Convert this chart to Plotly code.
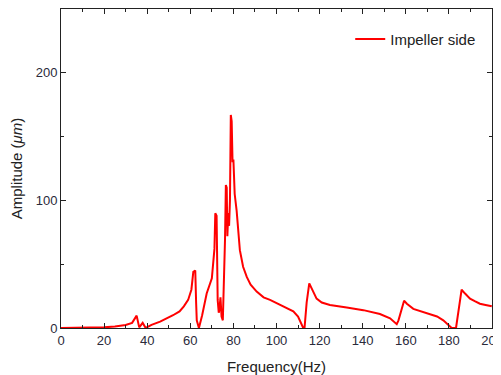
import plotly.graph_objects as go

freq = [0, 10, 20, 25, 30, 33, 35.1, 36.3, 37.9, 39.3, 42, 46, 50, 52, 55, 57, 59, 60.5, 61.4, 62.3, 62.7, 63.0,
        64, 65.5, 67.6, 70, 71.2, 71.6, 72.2, 72.7, 73.2, 73.5, 74.0, 74.5, 75.1, 75.6, 76.1, 76.5, 76.9, 77.2,
        77.6, 78.0, 78.4, 78.8, 79.2, 79.6, 80, 80.6, 81.5, 83, 84.5, 86.2, 88, 90.8, 94, 97, 101.6, 104.5,
        107.8, 110, 111.5, 112.4, 113, 114, 115.2, 116.5, 118.6, 121, 124.8, 132.6, 140.3, 148, 152.7, 155.8,
        156.6, 159.2, 160.5, 163.5, 167, 171.2, 174.5, 177.4, 179.5, 181.3, 183.3, 184.5, 185.9, 187.5, 189.8,
        192, 194.4, 197, 199.9]
amp = [0, 0.1, 0.5, 1.2, 2.3, 4, 9.7, 0.5, 4, 0, 2.5, 5, 8, 10, 13, 17, 22, 30, 44, 45, 20, 6,
       0, 10, 27, 39, 62, 90, 88, 22, 12, 14, 24, 9, 6, 30, 69, 112, 110, 72,
       90, 80, 100, 167, 162, 130, 132, 105, 92, 61, 48, 40, 34, 28.5, 24, 22, 18, 15.5,
       13, 9, 4, 0, 0, 20, 35, 30, 23, 20, 18, 16, 14, 11, 7.6, 3,
       6, 21.4, 19, 15, 13, 11, 9, 6, 3, 0, 0, 15, 30, 27, 23,
       21, 19, 18, 17]

series_name = "Impeller side"

fig = go.Figure()
fig.add_trace(go.Scatter(x=freq, y=amp, mode="lines", name=series_name,
                         line=dict(color="#ff0000", width=2)))

axis_common = dict(showline=True, linecolor="#222", linewidth=1, mirror="ticks",
                   ticks="inside", ticklen=5, tickcolor="#222", showgrid=False, zeroline=False,
                   automargin=False,
                   tickfont=dict(family="Liberation Sans, Arial", size=13, color="#2a2a3a"))

fig.update_layout(
    width=501, height=367,
    margin=dict(l=53, r=17, t=1, b=47),
    plot_bgcolor="white", paper_bgcolor="white",
    showlegend=True,
    legend=dict(x=0.975, xanchor="right", y=0.905, yanchor="middle", bgcolor="rgba(0,0,0,0)",
                font=dict(family="Liberation Sans, Arial", size=15, color="#222")),
    xaxis=dict(range=[0, 200], dtick=20, tick0=0,
               minor=dict(dtick=10, ticks="inside", ticklen=3, tickcolor="#222"),
               title=dict(text="Frequency(Hz)", font=dict(family="Liberation Sans, Arial", size=15, color="#222"),
                          standoff=15),
               **axis_common),
    yaxis=dict(range=[0, 250], tickvals=[0, 100, 200],
               minor=dict(tickvals=[50, 150], ticks="inside", ticklen=3, tickcolor="#222"),
               title=dict(text="Amplitude (<i>μm</i>)", font=dict(family="Liberation Sans, Arial", size=15, color="#222"),
                          standoff=12),
               **axis_common),
)

fig.write_html("out.html")
